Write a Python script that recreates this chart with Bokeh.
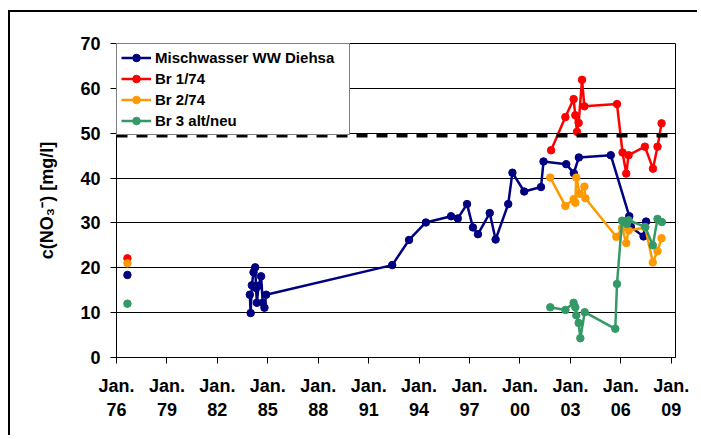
from bokeh.plotting import figure
from bokeh.models import Range1d, FixedTicker, Span, Legend, LegendItem
from bokeh.embed import file_html
from bokeh.resources import INLINE

# ---- data (decimal years, mg/l) ----
mix_year = [1983.93, 1983.98, 1984.05, 1984.15, 1984.25, 1984.30, 1984.35, 1984.45,
            1984.60, 1984.70, 1984.80, 1984.90, 1992.40, 1993.40, 1994.40, 1995.90,
            1996.30, 1996.85, 1997.20, 1997.50, 1998.20, 1998.55, 1999.30, 1999.55,
            2000.25, 2001.25, 2001.40, 2002.75, 2003.20, 2003.50, 2005.40, 2006.50,
            2006.60, 2007.35, 2007.50]
mix_val = [14.0, 9.9, 16.1, 19.0, 20.1, 15.5, 12.2, 16.0,
           18.1, 12.2, 11.1, 14.0, 20.6, 26.2, 30.1, 31.5,
           31.0, 34.2, 29.0, 27.5, 32.2, 26.3, 34.2, 41.2,
           37.0, 38.0, 43.7, 43.1, 41.1, 44.6, 45.1, 31.5,
           29.1, 27.0, 30.3]

br1_year = [2001.85, 2002.70, 2003.19, 2003.29, 2003.39, 2003.49, 2003.69, 2003.83,
            2005.77, 2006.10, 2006.32, 2006.46, 2007.43, 2007.91, 2008.18, 2008.42]
br1_val = [46.2, 53.6, 57.6, 54.0, 50.3, 52.3, 61.9, 56.0,
           56.5, 45.7, 41.0, 45.1, 47.0, 42.1, 47.0, 52.2]

br2_year = [2001.80, 2002.70, 2003.19, 2003.29, 2003.35, 2003.55, 2003.83, 2003.89,
            2005.73, 2006.07, 2006.32, 2006.46, 2007.45, 2007.90, 2008.18, 2008.42]
br2_val = [40.1, 33.8, 35.3, 34.5, 40.1, 36.5, 38.1, 35.5,
           26.9, 28.9, 25.5, 28.3, 29.0, 21.2, 23.7, 26.6]

br3_year = [2001.80, 2002.70, 2003.19, 2003.29, 2003.35, 2003.49, 2003.59, 2003.85,
            2005.67, 2005.77, 2006.07, 2006.26, 2006.36, 2006.46, 2007.45, 2007.90,
            2008.18, 2008.44]
br3_val = [11.2, 10.6, 12.2, 11.2, 9.4, 7.7, 4.3, 10.1,
           6.4, 16.4, 30.5, 30.3, 29.8, 30.6, 29.1, 25.0,
           30.9, 30.2]

# single early samples (1976), not connected
early_year = [1976.65, 1976.65, 1976.65, 1976.65]
early_val = [18.4, 22.1, 21.0, 12.0]
early_color = ["#000080", "#FF0000", "#FF9900", "#339966"]

limit_value = 49.5

tick_years = [1976, 1979, 1982, 1985, 1988, 1991, 1994, 1997, 2000, 2003, 2006, 2009]
tick_labels = ["Jan.\n76", "Jan.\n79", "Jan.\n82", "Jan.\n85", "Jan.\n88", "Jan.\n91",
               "Jan.\n94", "Jan.\n97", "Jan.\n00", "Jan.\n03", "Jan.\n06", "Jan.\n09"]

series_names = ["Mischwasser WW Diehsa", "Br 1/74", "Br 2/74", "Br 3 alt/neu"]
series_colors = ["#000080", "#FF0000", "#FF9900", "#339966"]

FONT = "Liberation Sans"

p = figure(width=689, height=425, output_backend="svg", toolbar_location=None,
           x_range=Range1d(1976, 2009.25), y_range=Range1d(0, 70),
           min_border_left=106, min_border_right=24, min_border_top=31, min_border_bottom=80)
# outer chart-area frame (left and top edges visible in the reference)
p.styles = {"margin-left": "8px", "margin-top": "10px",
            "border-left": "2px solid black", "border-top": "2px solid black"}
p.background_fill_color = "white"
p.border_fill_color = "white"
p.outline_line_color = "black"
p.outline_line_width = 1

# axes
p.xaxis.ticker = FixedTicker(ticks=tick_years)
p.xaxis.major_label_overrides = {y: l for y, l in zip(tick_years, tick_labels)}
p.yaxis.ticker = FixedTicker(ticks=[0, 10, 20, 30, 40, 50, 60, 70])
for ax in (p.xaxis, p.yaxis):
    ax.major_label_text_font = FONT
    ax.major_label_text_font_style = "bold"
    ax.major_label_text_font_size = "18px"
    ax.major_label_text_color = "black"
    ax.major_tick_in = 0
    ax.major_tick_out = 6
    ax.minor_tick_in = 0
    ax.minor_tick_out = 0
    ax.axis_line_color = "black"
    ax.major_tick_line_color = "black"
p.xaxis.major_label_standoff = 12
p.yaxis.major_label_standoff = 10
p.yaxis.axis_label = "c(NO\u2083\u207b) [mg/l]"
p.yaxis.axis_label_text_font = FONT
p.yaxis.axis_label_text_font_style = "bold"
p.yaxis.axis_label_text_font_size = "18px"
p.yaxis.axis_label_text_color = "black"
p.yaxis.axis_label_standoff = 20

p.xgrid.grid_line_color = None
p.ygrid.grid_line_color = "black"
p.ygrid.grid_line_width = 1

# limit line
p.add_layout(Span(location=limit_value, dimension="width", line_color="black",
                  line_width=4, line_dash="11 9"))

items = []
for name, col, xs, ys in zip(series_names, series_colors,
                             [mix_year, br1_year, br2_year, br3_year],
                             [mix_val, br1_val, br2_val, br3_val]):
    lr = p.line(xs, ys, line_color=col, line_width=2.5)
    sr = p.scatter(xs, ys, size=7.5, fill_color=col, line_color=col)
    items.append(LegendItem(label=name, renderers=[lr, sr]))

p.scatter(early_year, early_val, size=7.5, fill_color=early_color, line_color=early_color)

legend = Legend(items=items, location="top_left", margin=0, padding=4, spacing=2,
                label_height=19, glyph_height=19, glyph_width=30, label_standoff=4,
                label_width=190,
                label_text_font=FONT, label_text_font_style="bold",
                label_text_font_size="15px", label_text_color="black",
                border_line_color="black", border_line_width=1.5,
                background_fill_color="white", background_fill_alpha=1.0)
p.add_layout(legend)

open("out.html", "w").write(file_html(p, INLINE))
